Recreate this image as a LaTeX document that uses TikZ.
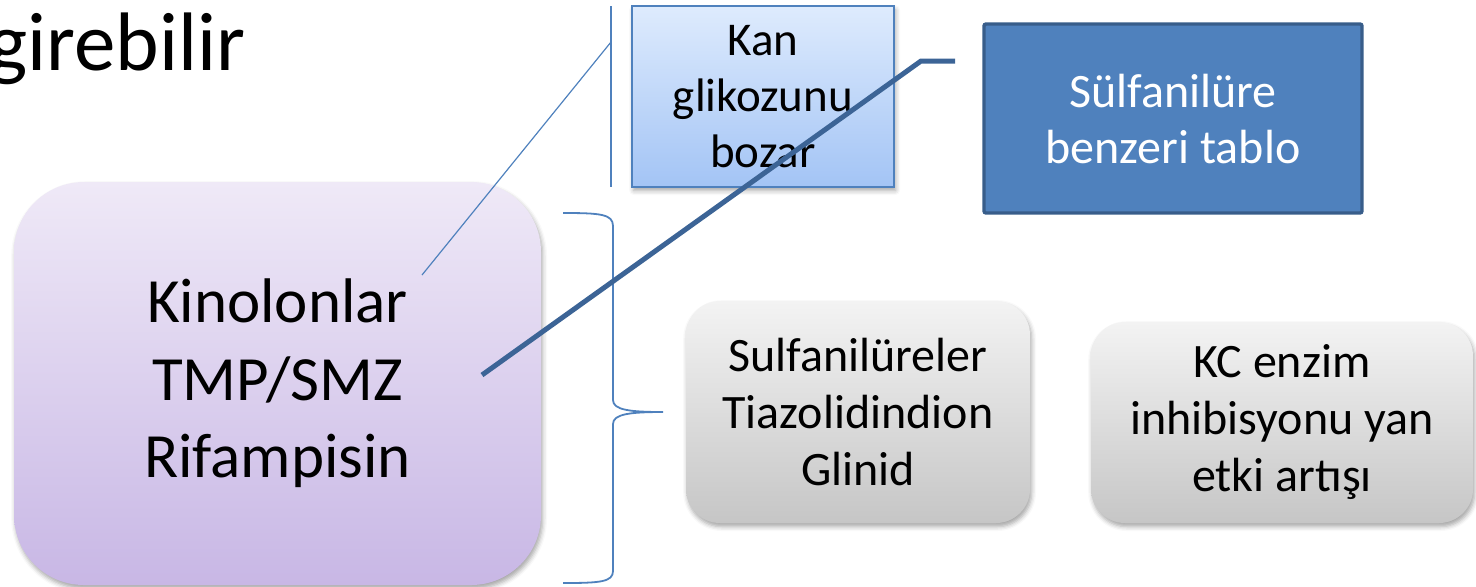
\documentclass[tikz,border=0pt]{standalone}
\usepackage{fontspec}
\setmainfont{Carlito}
\usetikzlibrary{shadows.blur}

\definecolor{lineblue}{RGB}{79,129,189}
\definecolor{darkblue}{RGB}{56,93,138}
\definecolor{calloutblue}{RGB}{60,100,150}
\definecolor{lilactop}{RGB}{239,233,247}
\definecolor{lilacbot}{RGB}{200,183,229}
\definecolor{greytop}{RGB}{243,243,243}
\definecolor{greybot}{RGB}{198,198,198}
\definecolor{skytop}{RGB}{222,235,253}
\definecolor{skybot}{RGB}{163,196,245}

\tikzset{
  softshadow/.style={blur shadow={shadow xshift=0.8pt, shadow yshift=-1.8pt,
      shadow blur radius=2.2pt, shadow opacity=35}},
  drugbox/.style={rounded corners=35pt, inner sep=0pt, align=center,
      top color=lilactop, bottom color=lilacbot, softshadow,
      font=\fontsize{31.5}{38.75}\selectfont},
  greybox/.style={rounded corners=17pt, inner sep=0pt, align=center,
      top color=greytop, bottom color=greybot, softshadow,
      font=\fontsize{24}{28.5}\selectfont},
  lightbox/.style={inner sep=0pt, align=center, draw=lineblue, line width=0.6pt,
      top color=skytop, bottom color=skybot, softshadow,
      font=\fontsize{23.5}{28}\selectfont},
  darkbox/.style={inner sep=0pt, align=center, draw=darkblue, line width=1.7pt,
      rounded corners=1pt, fill=lineblue, text=white,
      font=\fontsize{24}{28}\selectfont},
  thinline/.style={draw=lineblue, line width=0.6pt},
  thickline/.style={draw=calloutblue, line width=2.5pt},
  bracket/.style={draw=lineblue, line width=0.9pt},
}

\begin{document}
\begin{tikzpicture}[x=0.5pt, y=-0.5pt]
\useasboundingbox (0,0) rectangle (1476,586);

% heading fragment
\node[anchor=base east, inner sep=0pt, font=\fontsize{41.5}{50}\selectfont]
  (title) at (246,70) {girebilir};

% main drug group
\node[drugbox, minimum width=263.5pt, minimum height=201.5pt]
  (drugs) at (277.5,383.5) {Kinolonlar\\TMP/SMZ\\Rifampisin};

% affected antidiabetics and effect
\node[greybox, minimum width=172pt, minimum height=111pt]
  (oad) at (858,412) {Sulfanilüreler\\Tiazolidindion\\Glinid};
\node[greybox, minimum width=191pt, minimum height=100.5pt]
  (kc) at (1282,422.5) {KC enzim\\inhibisyonu yan\\etki artışı};

% callout boxes
\node[lightbox, minimum width=131pt, minimum height=90.5pt]
  (kan) at (763,96.5) {Kan\\glikozunu\\bozar};
\node[darkbox, minimum width=189pt, minimum height=94.5pt]
  (sulf) at (1173,118.5) {Sülfanilüre\\benzeri tablo};

% brace grouping the drug box
\coordinate (brTop) at (563,213);
\coordinate (brTip) at (663,412);
\coordinate (brBot) at (563,583);
\draw[bracket] (brTop) .. controls (600,213) and (613,214) .. (613,226)
  -- (613,400) .. controls (613,410) and (630,412) .. (brTip)
  .. controls (630,412) and (613,414) .. (613,424)
  -- (613,571) .. controls (613,582) and (600,583) .. (brBot);

% callout line for the light box
\coordinate (kanBarTop) at (611,6);
\coordinate (kanBarBot) at (611,187);
\coordinate (kanJoint) at (611,42);
\coordinate (kanEnd) at (422,275);
\draw[thinline] (kanBarTop) -- (kanBarBot);
\draw[thinline] (kanJoint) -- (kanEnd);

% callout line for the dark box
\coordinate (sulfEnd) at (482,375);
\coordinate (sulfBend) at (921,61);
\coordinate (sulfStart) at (955,61);
\draw[thickline] (sulfStart) -- (sulfBend) -- (sulfEnd);
\end{tikzpicture}
\end{document}
